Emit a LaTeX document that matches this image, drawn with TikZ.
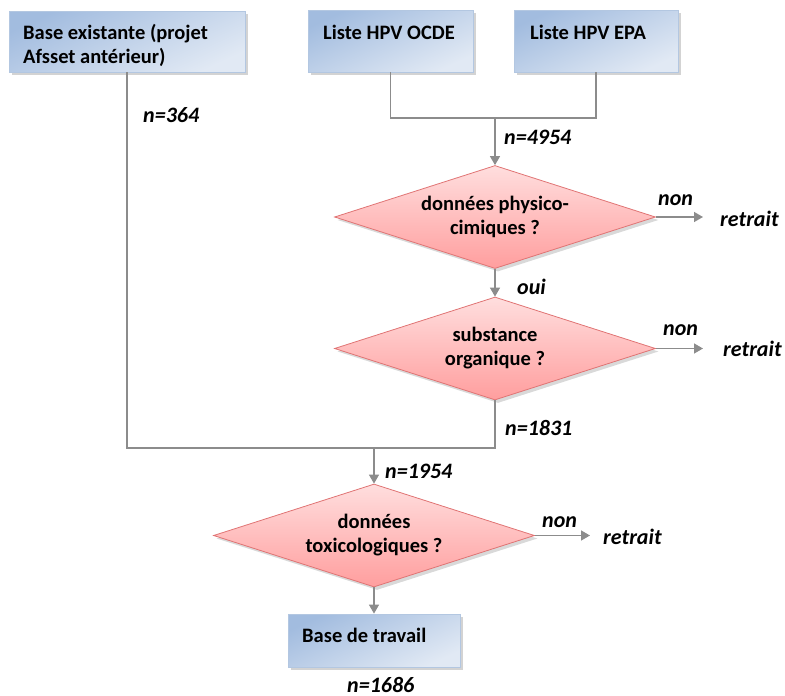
\documentclass[tikz,border=0pt]{standalone}
\usepackage{fontspec}
\setmainfont{Carlito}
\usetikzlibrary{shapes.geometric,arrows.meta,shadows}
\definecolor{boxtop}{HTML}{A2BCDF}
\definecolor{boxbot}{HTML}{E1E9F4}
\definecolor{boxline}{HTML}{B3C7E1}
\definecolor{dtop}{HTML}{FFDEDE}
\definecolor{dbot}{HTML}{FF9E9E}
\definecolor{dline}{HTML}{E07474}
\definecolor{connc}{HTML}{8C8C8C}
\begin{document}
\begin{tikzpicture}[x=1pt,y=-1pt,
  boxnode/.style={rectangle, draw=boxline, line width=0.8pt, top color=boxtop, bottom color=boxbot, shading angle=25, inner sep=0pt, drop shadow={shadow xshift=3pt, shadow yshift=-3pt, opacity=0.35}},
  decision/.style={diamond, draw=dline, line width=0.8pt, top color=dtop, bottom color=dbot, aspect=3.1, inner sep=0pt, minimum width=321pt, minimum height=103pt, align=center, font=\bfseries\fontsize{20.5}{24}\selectfont, drop shadow={shadow xshift=3pt, shadow yshift=-3pt, opacity=0.3}},
  boxtext/.style={anchor=west, inner sep=0pt, align=left, font=\bfseries\fontsize{20.5}{24}\selectfont},
  lbl/.style={anchor=west, inner sep=0pt, font=\bfseries\itshape\fontsize{22}{24}\selectfont},
  conn/.style={draw=connc, line width=1.4pt},
  arr/.style={conn, -{Triangle[length=9pt,width=10pt]}}
]
\useasboundingbox (0,0) rectangle (785,696);
% boxes
\node[boxnode, minimum width=236pt, minimum height=61pt] (b1) at (127,41.5) {};
\node[boxnode, minimum width=165pt, minimum height=62pt] (ocde) at (390.5,41) {};
\node[boxnode, minimum width=164pt, minimum height=62pt] (epa) at (596,41) {};
\node[boxnode, minimum width=172pt, minimum height=53pt] (bt) at (374,640.5) {};
\node[boxtext] (b1t) at (23,45) {Base existante (projet\\Afsset antérieur)};
\node[boxtext] (ocdet) at (323,32) {Liste HPV OCDE};
\node[boxtext] (epat) at (530,32) {Liste HPV EPA};
\node[boxtext] (btt) at (302,635) {Base de travail};
% decisions
\node[decision] (d1) at (495,217) {données physico-\\cimiques ?};
\node[decision] (d2) at (495,348.5) {substance\\organique ?};
\node[decision] (d3) at (374,535.5) {données\\toxicologiques ?};
% junction coordinates
\coordinate (jt) at (495,118);
\coordinate (jl) at (374,448);
\coordinate (jr) at (495,448);
\coordinate (r1) at (703,217);
\coordinate (r2) at (703,348.5);
\coordinate (r3) at (590,535.5);
% connectors
\draw[conn] (ocde.south) |- (jt) -| (epa.south);
\draw[arr] (jt) -- (d1.north);
\draw[arr] (d1.south) -- (d2.north);
\draw[conn] (b1.south) |- (jr) -- (d2.south);
\draw[arr] (jl) -- (d3.north);
\draw[arr] (d3.south) -- (bt.north);
\draw[arr] (d1.east) -- (r1);
\draw[arr] (d2.east) -- (r2);
\draw[arr] (d3.east) -- (r3);
% labels
\node[lbl] (l364) at (143,115) {n=364};
\node[lbl] (l4954) at (504,137) {n=4954};
\node[lbl] (non1) at (658,200) {non};
\node[lbl] (ret1) at (720,219) {retrait};
\node[lbl] (oui) at (517,287) {oui};
\node[lbl] (non2) at (663,330) {non};
\node[lbl] (ret2) at (723,349) {retrait};
\node[lbl] (l1831) at (505,428) {n=1831};
\node[lbl] (l1954) at (385,471) {n=1954};
\node[lbl] (non3) at (542,522) {non};
\node[lbl] (ret3) at (603,537) {retrait};
\node[lbl] (l1686) at (347,684.5) {n=1686};
\end{tikzpicture}
\end{document}
